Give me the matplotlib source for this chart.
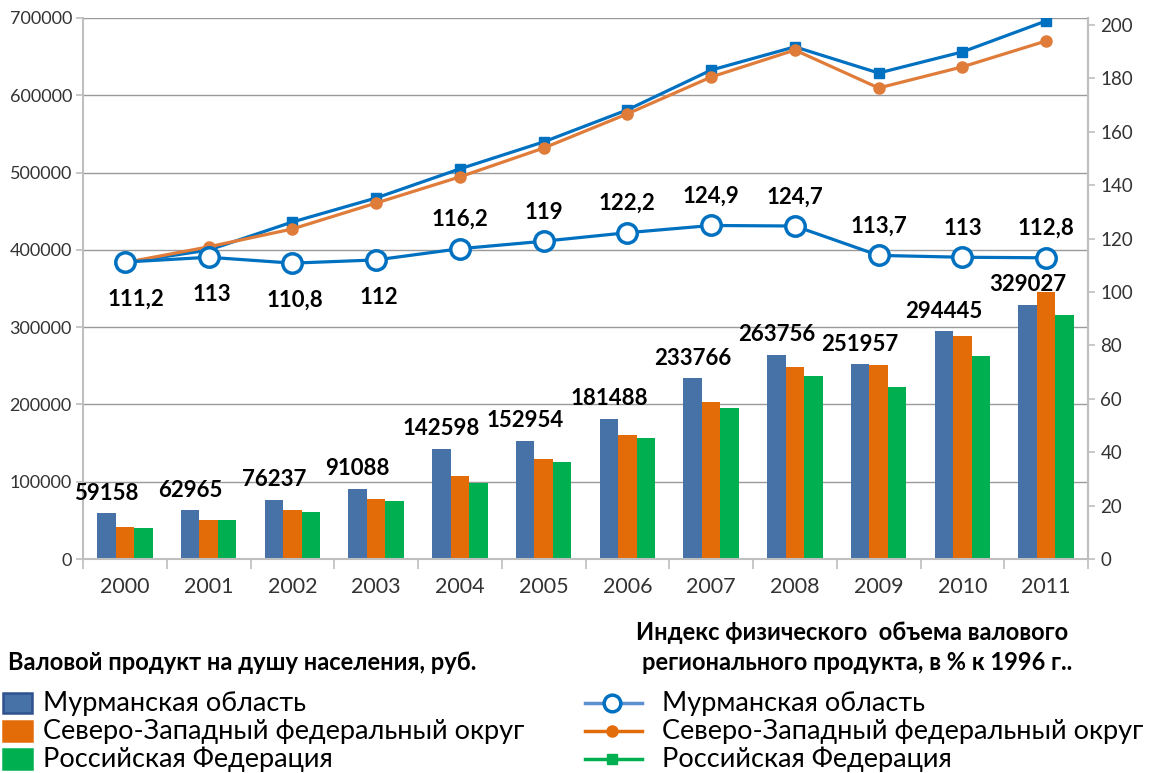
import matplotlib
matplotlib.use("Agg")
import matplotlib.pyplot as plt
import numpy as np
from matplotlib.patches import Rectangle
from matplotlib.lines import Line2D

plt.rcParams['font.family'] = ['Lato', 'DejaVu Sans']

# data
years = [str(y) for y in range(2000, 2012)]
grp_murmansk = [59158, 62965, 76237, 91088, 142598, 152954, 181488, 233766, 263756, 251957, 294445, 329027]
grp_nwfd = [41000, 50000, 63000, 78000, 107000, 130000, 160000, 203000, 248000, 251000, 289000, 345500]
grp_rf = [40000, 50000, 61000, 75000, 98000, 125000, 157000, 196000, 237000, 223000, 263000, 315700]

idx_murmansk = [111.2, 113, 110.8, 112, 116.2, 119, 122.2, 124.9, 124.7, 113.7, 113, 112.8]
idx_nwfd = [111.0, 116.9, 123.6, 133.3, 143.1, 153.9, 166.7, 180.5, 190.6, 176.4, 184.3, 194.0]
idx_rf = [111.0, 115.7, 126.2, 135.2, 146.1, 156.2, 168.2, 183.1, 191.8, 182.0, 189.9, 201.5]

names = ['Мурманская область', 'Северо-Западный федеральный округ', 'Российская Федерация']
title_left = 'Валовой продукт на душу населения, руб.'
title_right = ['Индекс физического  объема валового', 'регионального продукта, в % к 1996 г..']

c_blue_bar = '#4672A8'
c_orange_bar = '#E36C09'
c_green_bar = '#00AF50'
c_line_blue = '#0070C0'
c_line_orange = '#E07C3A'
grid_c = '#9a9a9a'
axis_c = '#BFBFBF'
txt_c = '#333333'

W, H = 1149, 773
fig = plt.figure(figsize=(W / 100, H / 100), dpi=100)
ax = fig.add_axes([83 / W, 1 - 559 / H, (1088 - 83) / W, (559 - 18) / H])

x = np.arange(len(years))
w = 0.22
ax.bar(x - w, grp_murmansk, w, color=c_blue_bar, zorder=2)
ax.bar(x, grp_nwfd, w, color=c_orange_bar, zorder=2)
ax.bar(x + w, grp_rf, w, color=c_green_bar, zorder=2)

for xi, v in zip(x, grp_murmansk):
    ax.annotate(str(v), (xi - w, v), xytext=(0, 7), textcoords='offset points',
                ha='center', va='bottom', fontsize=16, fontweight='bold', color='black')

ax.set_xlim(-0.5, len(years) - 0.5)
ax.set_ylim(0, 700000)
ax.set_yticks(np.arange(0, 700001, 100000))
ax.yaxis.grid(True, color=grid_c, linewidth=1.0, zorder=0)
ax.set_axisbelow(True)
ax.set_xticks(x)
ax.set_xticklabels(years)
ax.set_xticks(np.arange(-0.5, len(years), 1), minor=True)
ax.tick_params(axis='x', which='major', length=0, pad=13, labelsize=15.5, labelcolor=txt_c)
ax.tick_params(axis='x', which='minor', length=7, width=1.2, color=axis_c)
ax.tick_params(axis='y', length=5, width=1.2, color=axis_c, labelsize=13, labelcolor=txt_c, pad=3)
ax.spines['top'].set_visible(False)
for s in ['left', 'bottom', 'right']:
    ax.spines[s].set_color(axis_c)
    ax.spines[s].set_linewidth(1.5)

ax2 = ax.twinx()
ax2.set_ylim(0, 202.6)
ax2.set_yticks(np.arange(0, 201, 20))
ax2.tick_params(axis='y', length=5, width=1.2, color=axis_c, labelsize=13.5, labelcolor=txt_c, pad=4)
for s in ['top', 'left', 'bottom']:
    ax2.spines[s].set_visible(False)
ax2.spines['right'].set_color(axis_c)
ax2.spines['right'].set_linewidth(1.5)

ax2.plot(x, idx_rf, color=c_line_blue, lw=2.3, marker='s', ms=7, zorder=3)
ax2.plot(x, idx_nwfd, color=c_line_orange, lw=2.3, marker='o', ms=8, zorder=4)
ax2.plot(x, idx_murmansk, color=c_line_blue, lw=2.3, marker='o', ms=14,
         mfc='white', mec=c_line_blue, mew=2.5, zorder=5)

for i, (xi, v) in enumerate(zip(x, idx_murmansk)):
    lab = ('%g' % v).replace('.', ',')
    if i < 4:
        dx = 8 if i == 0 else 2
        ax2.annotate(lab, (xi, v), xytext=(dx, -27), textcoords='offset points',
                     ha='center', va='center', fontsize=16, fontweight='bold')
    else:
        ax2.annotate(lab, (xi, v), xytext=(0, 21), textcoords='offset points',
                     ha='center', va='center', fontsize=16, fontweight='bold')

# legend area
def fy(py):
    return 1 - py / H

def fx(px):
    return px / W

fig.text(fx(8), fy(663), title_left, fontsize=17, fontweight='bold', va='center', ha='left')
fig.text(fx(852), fy(633), title_right[0], fontsize=17, fontweight='bold', va='center', ha='center')
fig.text(fx(857), fy(663), title_right[1], fontsize=17, fontweight='bold', va='center', ha='center')

rows = [703, 731, 759]
bar_cols = [c_blue_bar, c_orange_bar, c_green_bar]
bar_edges = ['#2F528F', c_orange_bar, c_green_bar]
for r, name, fc, ec in zip(rows, names, bar_cols, bar_edges):
    fig.patches.append(Rectangle((fx(3), fy(r + 10)), fx(29), 20 / H, transform=fig.transFigure,
                                 facecolor=fc, edgecolor=ec, linewidth=1.8))
    fig.text(fx(43), fy(r), name, fontsize=19.5, va='center', ha='left')

leg_lines = [
    dict(color='#5B8FCF', marker='o', ms=12, mfc='white', mec=c_line_blue, mew=2.5),
    dict(color='#E36C0A', marker='o', ms=8, mfc='#E36C0A', mec='#E36C0A'),
    dict(color='#00B050', marker='s', ms=7, mfc='#00B050', mec='#00B050'),
]
for r, name, st in zip(rows, names, leg_lines):
    fig.lines.append(Line2D([fx(585), fx(642)], [fy(r), fy(r)], transform=fig.transFigure,
                            lw=2.5, color=st['color']))
    fig.lines.append(Line2D([fx(612)], [fy(r)], transform=fig.transFigure, ls='none',
                            marker=st['marker'], ms=st['ms'], mfc=st['mfc'], mec=st['mec'],
                            mew=st.get('mew', 1)))
    fig.text(fx(662), fy(r), name, fontsize=19.5, va='center', ha='left')

fig.savefig('out.png', dpi=100)
